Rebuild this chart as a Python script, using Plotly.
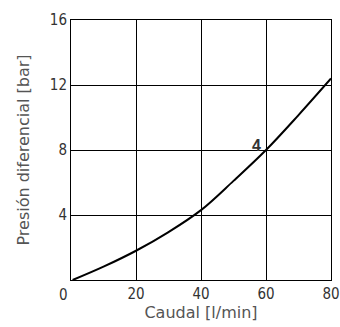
import plotly.graph_objects as go

flow = [0.5, 10, 20, 30, 40, 50, 60, 70, 80]
dp = [0.0, 0.82, 1.8, 2.95, 4.3, 6.1, 8.0, 10.15, 12.4]
x_ticks = [20, 40, 60, 80]
y_ticks = [4, 8, 12, 16]
curve_label = "4"
label_pos = (57.1, 8.3)

tick_font = dict(family="Liberation Sans Narrow, DejaVu Sans Condensed, sans-serif", size=15, color="#333333")
title_font = dict(family="DejaVu Sans, sans-serif", size=16, color="#555555")

fig = go.Figure()
fig.add_trace(go.Scatter(x=flow, y=dp, mode="lines",
                         line=dict(color="black", width=2, shape="spline", smoothing=1.0),
                         showlegend=False, hoverinfo="skip"))

fig.add_annotation(x=label_pos[0], y=label_pos[1], text="<b>" + curve_label + "</b>",
                   showarrow=False, font=dict(family="Liberation Sans, Arial", size=16, color="#333333"))
fig.add_annotation(x=0, y=0, text="0", showarrow=False, xanchor="center", yanchor="top",
                   xshift=-8, yshift=-4, font=tick_font)

fig.update_xaxes(range=[0, 80], tickvals=x_ticks, ticks="", showgrid=True, gridcolor="black",
                 gridwidth=1, showline=True, linecolor="black", linewidth=1, mirror=True,
                 zeroline=False, tickfont=tick_font, automargin=False,
                 title=dict(text="Caudal [l/min]", font=title_font, standoff=4))
fig.update_yaxes(range=[0, 16], tickvals=y_ticks, ticks="", showgrid=True, gridcolor="black",
                 gridwidth=1, showline=True, linecolor="black", linewidth=1, mirror=True,
                 zeroline=False, tickfont=tick_font, automargin=False,
                 title=dict(text="Presión diferencial [bar]", font=title_font, standoff=16))

fig.update_layout(width=340, height=327, margin=dict(l=71, r=9, t=20, b=47),
                  paper_bgcolor="white", plot_bgcolor="white")

fig.write_html("out.html")
